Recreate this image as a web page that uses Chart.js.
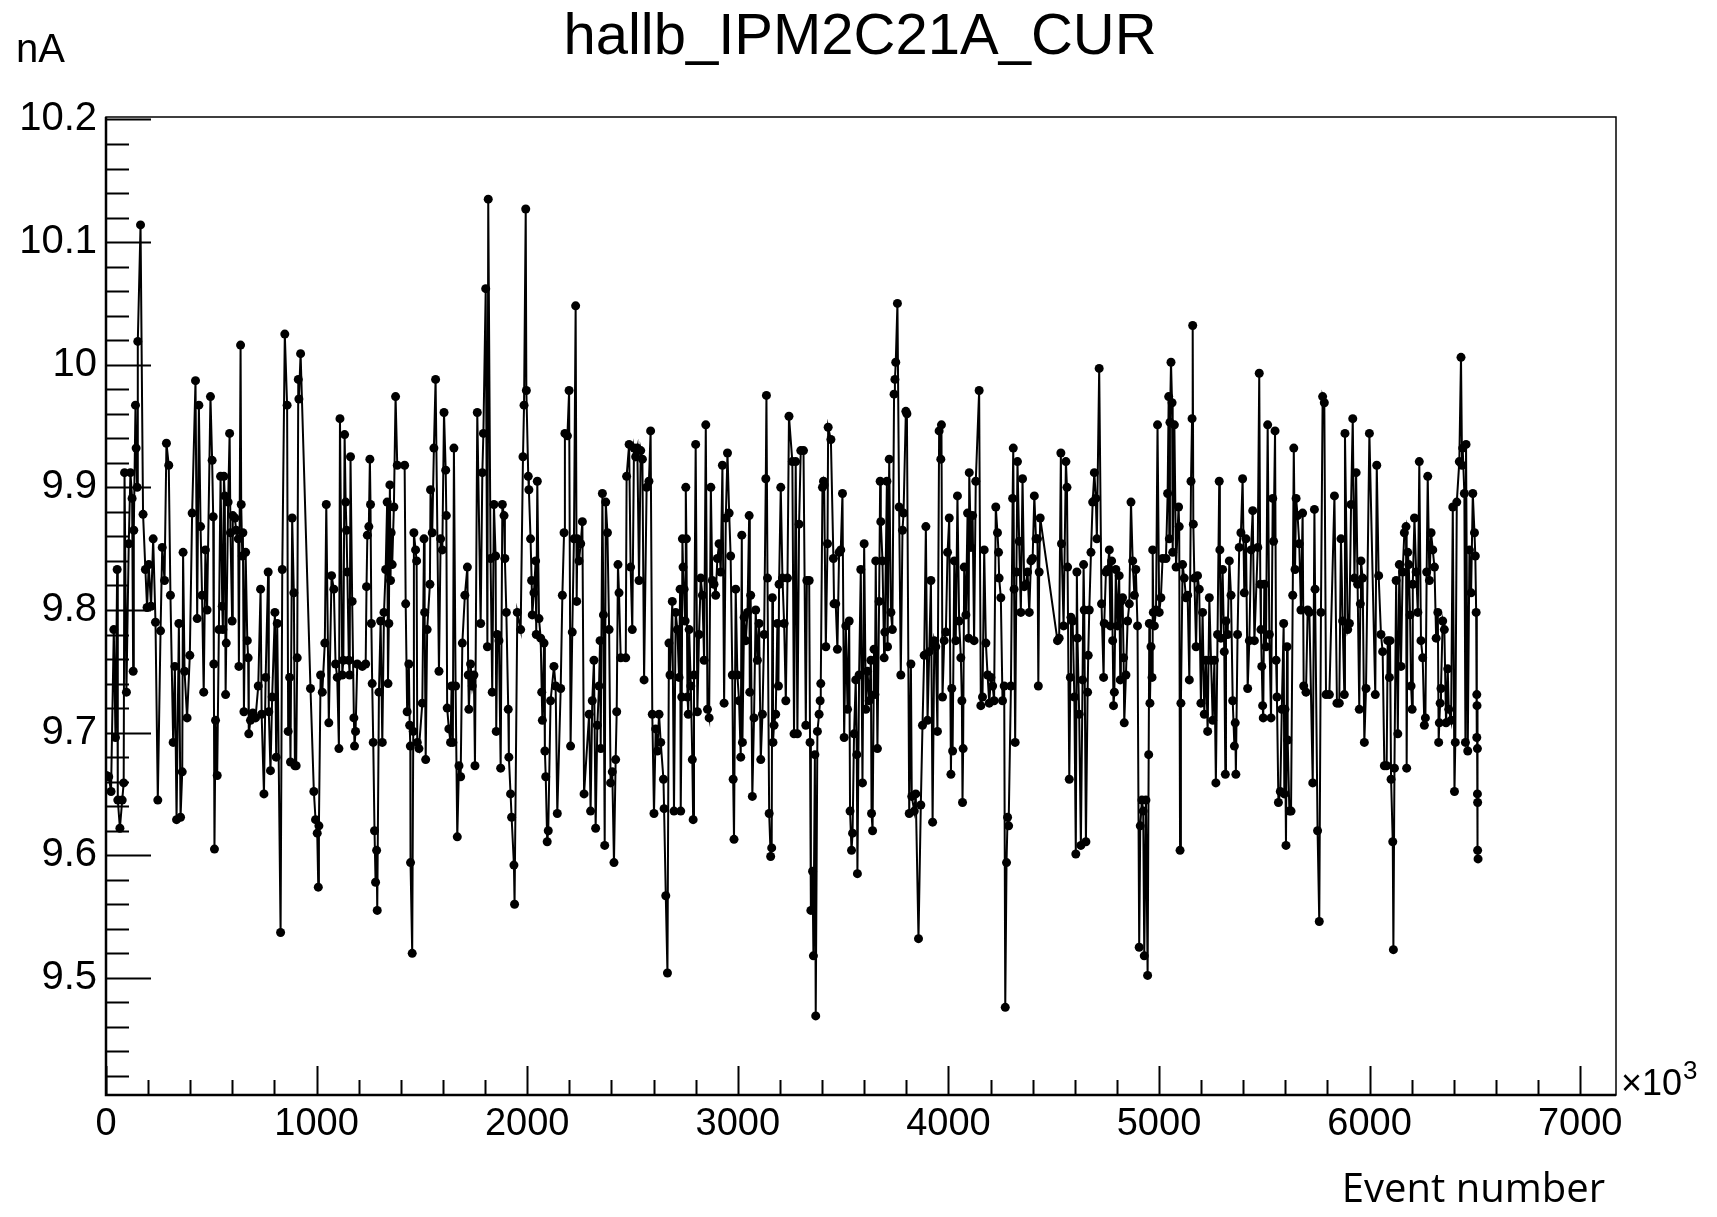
<!DOCTYPE html>
<html>
<head>
<meta charset="utf-8">
<title>hallb_IPM2C21A_CUR</title>
<script src="https://cdn.jsdelivr.net/npm/chart.js@4.4.1/dist/chart.umd.min.js"></script>
<style>
  html, body { margin: 0; padding: 0; background: #fff; }
  #wrap { width: 1717px; height: 1217px; }
</style>
</head>
<body>
<div id="wrap"><canvas id="curChart" width="1717" height="1217"></canvas></div>
<script>
// Chart texts
const chartTitle = "hallb_IPM2C21A_CUR";
const yUnit = "nA";
const xTitle = "Event number";

// Axis ticks
const xTickValues = [0, 1000, 2000, 3000, 4000, 5000, 6000, 7000];
const xTickLabels = ["0", "1000", "2000", "3000", "4000", "5000", "6000", "7000"];
const yTickValues = [9.5, 9.6, 9.7, 9.8, 9.9, 10, 10.1, 10.2];
const yTickLabels = ["9.5", "9.6", "9.7", "9.8", "9.9", "10", "10.1", "10.2"];

// Event number (x10^3)
const eventNumber = [
  2,13,24,37,45,53,56,66,77,84,88,97,108,116,124,129,132,140,143,148,151,164,176,187,195,203,214,224,235,246,259,267,278,287,298,306,319,327,335,346,354,362,366,373,385,398,409,425,433,441,449,456,464,472,480,496,504,509,512,515,520,528,536,544,
  552,555,560,564,568,571,580,587,591,599,602,612,618,628,631,639,642,647,650,655,663,671,675,678,686,697,710,723,734,739,750,758,770,773,781,789,802,808,813,829,837,849,860,865,872,876,884,892,897,903,908,913,916,924,971,987,995,1003,1008,1011,1019,1027,1039,1046,1058,1071,1082,1090,
  1098,1106,1111,1122,1127,1133,1138,1142,1146,1153,1157,1161,1169,1177,1180,1185,1193,1217,1233,1237,1241,1248,1253,1256,1260,1264,1269,1275,1280,1285,1288,1296,1304,1312,1320,1328,1335,1339,1343,1348,1351,1354,1359,1367,1375,1383,1418,1423,1430,1438,1442,1445,1446,1454,1459,1462,1470,1475,1478,1486,1502,1510,1513,1518,1525,1538,1541,1549,1557,1565,1581,1589,1597,1605,1613,1616,1620,1628,1636,
  1641,1647,1652,1660,1668,1676,1684,1692,1704,1716,1720,1723,1731,1739,1747,1752,1763,1779,1787,1792,1803,1811,1815,1826,1834,1842,1850,1853,1858,1866,1874,1882,1890,1894,1901,1910,1913,1921,1926,1937,1940,1953,1969,1980,1985,1993,1996,2005,2008,2016,2021,2024,2032,2040,2043,2048,2056,2064,2069,2072,2080,2084,2088,2095,2100,2111,2127,2135,2143,2159,2167,2175,2179,
  2191,2199,2206,2214,2222,2230,2235,2238,2246,2254,2262,2270,2294,2301,2309,2317,2325,2333,2341,2346,2349,2357,2362,2368,2373,2381,2389,2396,2404,2412,2420,2425,2431,2436,2444,2468,2472,2484,2491,2499,2507,2515,2523,2531,2539,2547,2555,2567,2578,2586,2594,2602,2610,2618,2626,2634,2647,2650,2658,2666,2673,2678,2689,2697,2705,2713,2721,2726,
  2729,2734,2737,2740,2745,2750,2753,2756,2761,2765,2769,2777,2784,2788,2792,2800,2808,2816,2824,2832,2840,2848,2856,2864,2872,2879,2887,2895,2903,2911,2919,2927,2935,2943,2951,2959,2966,2974,2978,2982,2990,2998,3006,3014,3019,3022,3030,3038,3046,3054,3057,3061,3069,3077,3085,3093,3101,3109,3117,3125,3133,3136,3141,3149,3156,3161,3164,3167,3172,3180,3188,3193,3196,3204,3212,3220,3228,3236,3243,3259,3267,
  3275,3283,3291,3299,3312,3323,3328,3339,3343,3347,3355,3359,3366,3370,3378,3386,3391,3394,3402,3407,3410,3418,3426,3429,3442,3454,3457,3465,3473,3481,3489,3497,3505,3513,3521,3529,3533,3540,3545,3552,3560,3565,3568,3576,3584,3592,3600,3608,3616,3624,3632,3635,3640,3647,3651,3655,3663,3671,3676,3679,3687,3695,3698,3708,3711,3719,3727,3734,3742,3746,3750,3758,3766,3774,3782,3787,3798,3803,3814,
  3822,3826,3838,3845,3858,3869,3877,3885,3893,3901,3909,3917,3925,3933,3940,3948,3956,3964,3967,3972,3980,3988,3996,4004,4012,4016,4020,4028,4035,4043,4051,4059,4064,4067,4070,4075,4083,4091,4096,4099,4107,4115,4122,4130,4146,4154,4162,4170,4178,4186,4194,4202,4210,4217,4225,4233,4238,4241,4249,4257,4265,4270,4276,4281,4286,4297,4305,4308,4312,4317,4323,4328,4336,4344,4352,4360,
  4368,4376,4384,4392,4400,4408,4416,4423,4427,4431,4436,4518,4526,4534,4537,4547,4558,4563,4566,4574,4579,4582,4590,4598,4605,4610,4613,4621,4629,4637,4642,4645,4653,4661,4664,4669,4677,4685,4693,4700,4705,4716,4727,4737,4740,4748,4756,4764,4769,4775,4780,4784,4788,4795,4803,4811,4816,4819,4827,4832,4835,4843,4851,4859,4867,4875,4883,4890,4898,4906,4911,
  4919,4925,4930,4938,4946,4951,4954,4957,4962,4967,4970,4973,4978,4986,4993,5001,5009,5017,5033,5041,5046,5049,5052,5057,5062,5065,5073,5081,5093,5096,5100,5104,5112,5120,5128,5136,5144,5152,5157,5160,5163,5168,5176,5183,5191,5199,5207,5215,5223,5231,5239,5247,5255,5263,5270,5278,5286,5289,5294,5302,5310,5315,5318,5326,5334,5342,5350,5358,5362,5365,5373,5381,5389,5397,5405,5413,5421,5429,5437,5445,5453,
  5469,5476,5481,5484,5488,5492,5495,5500,5508,5516,5524,5532,5540,5544,5551,5556,5560,5567,5576,5583,5592,5595,5598,5603,5608,5611,5619,5627,5635,5640,5646,5651,5658,5666,5674,5682,5687,5698,5706,5714,5730,5738,5741,5753,5761,5769,5777,5785,5793,5809,5833,5845,5856,5864,5872,5880,5883,5896,5904,5912,5920,5928,5936,5943,5951,5956,5959,5967,5975,5983,5999,
  6027,6034,6043,6054,6062,6070,6081,6086,6094,6097,6102,6110,6113,6118,6126,6134,6141,6149,6157,6165,6173,6176,6181,6186,6192,6197,6202,6205,6213,6221,6229,6236,6244,6252,6260,6265,6271,6276,6284,6292,6300,6308,6316,6324,6328,6331,6335,6339,6347,6355,6363,6371,6376,6387,6395,6403,6407,6414,6426,6434,6439,6442,6450,6455,6458,6466,6474,6482,6490,6498,6502,6506,6509,6509,6510,6512,6512,6513,6513,6515
];

// Beam current (nA)
const currentNA = [
  9.665,9.664,9.652,9.784,9.696,9.833,9.645,9.622,9.645,9.659,9.912,9.733,9.854,9.912,9.891,9.750,9.865,9.967,9.932,9.900,10.019,10.114,9.878,9.833,9.802,9.837,9.803,9.858,9.790,9.645,9.783,9.851,9.824,9.936,9.918,9.812,9.692,9.754,9.629,9.789,9.631,9.668,9.847,9.750,9.712,9.763,9.879,9.987,9.793,9.967,9.868,9.812,9.733,9.849,9.800,9.974,9.922,9.876,9.756,9.605,9.710,9.665,9.784,9.909,
  9.803,9.784,9.909,9.893,9.731,9.773,9.888,9.944,9.863,9.791,9.877,9.875,9.865,9.858,9.754,10.016,9.886,9.844,9.863,9.717,9.847,9.775,9.761,9.699,9.710,9.716,9.712,9.738,9.817,9.715,9.650,9.745,9.831,9.717,9.669,9.729,9.798,9.680,9.789,9.537,9.833,10.025,9.967,9.701,9.745,9.676,9.875,9.814,9.673,9.673,9.761,9.988,9.972,10.009,9.736,9.652,9.629,9.618,9.574,9.624,9.747,9.733,9.773,9.886,9.708,9.828,9.817,9.756,
  9.745,9.687,9.956,9.747,9.759,9.943,9.888,9.865,9.831,9.759,9.747,9.925,9.807,9.712,9.689,9.701,9.756,9.754,9.756,9.819,9.861,9.868,9.923,9.886,9.789,9.740,9.692,9.620,9.578,9.604,9.555,9.733,9.791,9.692,9.798,9.833,9.888,9.740,9.789,9.902,9.824,9.863,9.837,9.884,9.974,9.918,9.918,9.805,9.717,9.756,9.706,9.689,9.594,9.520,9.701,9.863,9.849,9.840,9.692,9.687,9.724,9.858,9.798,9.678,9.784,9.821,9.898,9.863,9.932,9.988,9.750,9.858,9.849,9.961,9.914,9.877,9.720,9.703,9.692,
  9.738,9.692,9.932,9.738,9.615,9.673,9.664,9.773,9.812,9.835,9.747,9.719,9.756,9.738,9.747,9.673,9.961,9.789,9.912,9.944,10.062,9.770,10.135,9.842,9.733,9.886,9.844,9.701,9.780,9.775,9.671,9.886,9.877,9.842,9.798,9.719,9.680,9.650,9.631,9.592,9.560,9.798,9.784,9.925,9.967,10.127,9.979,9.909,9.898,9.858,9.824,9.796,9.814,9.840,9.780,9.905,9.793,9.777,9.733,9.710,9.773,9.685,9.664,9.611,9.620,9.726,9.754,9.738,9.634,9.736,9.812,9.863,9.944,
  9.942,9.979,9.689,9.782,9.858,10.048,9.807,9.858,9.840,9.854,9.872,9.650,9.715,9.636,9.726,9.759,9.622,9.706,9.738,9.775,9.687,9.895,9.796,9.608,9.888,9.863,9.784,9.659,9.668,9.594,9.678,9.717,9.837,9.814,9.761,9.761,9.909,9.935,9.835,9.784,9.932,9.925,9.932,9.824,9.930,9.923,9.743,9.900,9.905,9.946,9.715,9.634,9.703,9.685,9.715,9.692,9.662,9.638,9.567,9.504,9.773,9.747,9.807,9.636,9.798,9.784,9.745,9.817,
  9.636,9.729,9.858,9.835,9.817,9.791,9.900,9.858,9.729,9.715,9.784,9.738,9.678,9.629,9.747,9.935,9.717,9.780,9.826,9.812,9.759,9.951,9.719,9.712,9.900,9.824,9.821,9.812,9.842,9.854,9.831,9.918,9.724,9.875,9.928,9.879,9.844,9.747,9.662,9.613,9.817,9.747,9.726,9.680,9.861,9.692,9.794,9.775,9.798,9.877,9.733,9.812,9.648,9.712,9.800,9.759,9.789,9.678,9.715,9.780,9.907,9.975,9.826,9.634,9.599,9.606,9.810,9.692,9.706,9.715,9.789,9.738,9.821,9.900,9.826,9.789,9.726,9.826,9.958,9.921,9.699,
  9.921,9.699,9.870,9.930,9.930,9.706,9.824,9.824,9.692,9.555,9.587,9.518,9.682,9.469,9.701,9.715,9.726,9.740,9.900,9.905,9.902,9.770,9.854,9.949,9.939,9.842,9.805,9.805,9.768,9.847,9.849,9.895,9.696,9.787,9.719,9.791,9.636,9.604,9.618,9.699,9.743,9.682,9.585,9.747,9.833,9.659,9.854,9.719,9.750,9.726,9.759,9.634,9.620,9.768,9.731,9.840,9.687,9.807,9.905,9.872,9.840,9.761,9.782,9.905,9.770,9.923,9.798,9.784,9.976,9.988,10.002,10.050,9.884,9.747,9.865,9.879,9.962,9.960,9.634,
  9.756,9.648,9.636,9.650,9.532,9.641,9.706,9.763,9.868,9.710,9.766,9.824,9.627,9.775,9.770,9.701,9.946,9.923,9.951,9.729,9.775,9.782,9.847,9.875,9.666,9.736,9.685,9.840,9.775,9.893,9.791,9.761,9.726,9.643,9.687,9.835,9.796,9.879,9.777,9.912,9.851,9.877,9.775,9.905,9.979,9.722,9.729,9.849,9.773,9.747,9.724,9.745,9.738,9.726,9.884,9.863,9.847,9.826,9.810,9.726,9.738,9.476,9.594,9.631,9.624,9.738,9.891,9.932,9.817,9.692,9.831,9.921,9.856,9.798,9.907,9.819,
  9.821,9.831,9.798,9.840,9.842,9.893,9.858,9.858,9.738,9.831,9.875,9.775,9.777,9.928,9.854,9.787,9.921,9.900,9.835,9.662,9.745,9.794,9.791,9.729,9.601,9.831,9.777,9.715,9.608,9.743,9.837,9.800,9.611,9.733,9.763,9.800,9.847,9.888,9.912,9.891,9.858,9.997,9.805,9.745,9.789,9.831,9.833,9.849,9.787,9.840,9.775,9.722,9.733,9.833,9.787,9.828,9.743,9.807,9.810,9.761,9.708,9.747,9.791,9.805,9.888,9.840,9.812,9.833,9.787,9.525,9.624,
  9.645,9.636,9.518,9.645,9.502,9.682,9.789,9.724,9.770,9.745,9.849,9.798,9.787,9.800,9.951,9.798,9.810,9.842,9.842,9.895,9.974,9.858,9.953,10.002,9.969,9.847,9.951,9.835,9.884,9.868,9.604,9.724,9.837,9.826,9.810,9.812,9.743,9.905,9.956,10.032,9.870,9.826,9.770,9.828,9.817,9.724,9.798,9.715,9.759,9.701,9.810,9.759,9.710,9.759,9.659,9.780,9.905,9.849,9.777,9.833,9.766,9.666,9.791,9.780,9.840,9.812,9.726,9.689,9.708,9.666,9.780,9.851,9.863,9.907,9.814,9.858,9.736,9.775,9.849,9.881,9.775,
  9.851,9.993,9.821,9.784,9.754,9.722,9.712,9.821,9.770,9.951,9.780,9.712,9.891,9.856,9.946,9.759,9.729,9.643,9.652,9.719,9.789,9.650,9.719,9.608,9.770,9.694,9.636,9.636,9.812,9.932,9.833,9.891,9.877,9.854,9.800,9.879,9.738,9.733,9.800,9.798,9.659,9.882,9.817,9.620,9.546,9.798,9.974,9.969,9.731,9.731,9.893,9.724,9.724,9.858,9.791,9.731,9.944,9.784,9.789,9.886,9.956,9.826,9.912,9.821,9.719,9.805,9.840,9.826,9.692,9.736,9.944,
  9.731,9.918,9.828,9.780,9.766,9.673,9.673,9.775,9.745,9.775,9.662,9.611,9.523,9.671,9.824,9.699,9.837,9.754,9.831,9.863,9.868,9.671,9.847,9.837,9.796,9.738,9.719,9.821,9.875,9.831,9.798,9.921,9.775,9.761,9.706,9.712,9.831,9.909,9.824,9.863,9.849,9.835,9.777,9.798,9.692,9.708,9.724,9.736,9.791,9.784,9.708,9.752,9.719,9.710,9.884,9.652,9.692,9.888,9.921,10.006,9.918,9.932,9.895,9.692,9.935,9.685,9.849,9.814,9.895,9.863,9.844,9.798,9.731,9.696,9.722,9.687,9.650,9.643,9.604,9.597
];

if (eventNumber.length !== currentNA.length) {
  throw new Error("length mismatch " + eventNumber.length + " vs " + currentNA.length);
}

document.addEventListener("DOMContentLoaded", () => {
  const ctx = document.getElementById("curChart").getContext("2d");
  const points = eventNumber.map((x, i) => ({ x: x, y: currentNA[i] }));

  // ROOT style frame, inside ticks and extra texts
  const rootStyle = {
    id: "rootStyle",
    beforeDatasetsDraw(chart) {
      const c = chart.ctx;
      const a = chart.chartArea;
      const xs = chart.scales.x;
      const ys = chart.scales.y;
      c.save();
      c.strokeStyle = "#000";
      // frame
      c.lineWidth = 1.5;
      c.strokeRect(a.left, a.top, a.right - a.left, a.bottom - a.top);
      // axis lines
      c.lineWidth = 2.5;
      c.beginPath();
      c.moveTo(a.left, a.top);
      c.lineTo(a.left, a.bottom);
      c.lineTo(a.right, a.bottom);
      c.stroke();
      // y ticks: major 0.1, minor 0.02
      c.lineWidth = 2;
      c.beginPath();
      for (let k = 470; k <= 510; k++) {
        const v = k / 50;
        if (v < ys.min || v > ys.max) continue;
        const py = Math.round(ys.getPixelForValue(v)) + 0.5;
        const len = k % 5 === 0 ? 45 : 23;
        c.moveTo(a.left, py);
        c.lineTo(a.left + len, py);
      }
      // x ticks: major 1000, minor 200
      for (let k = 0; k <= 36; k++) {
        const v = k * 200;
        if (v < xs.min || v > xs.max) continue;
        const px = Math.round(xs.getPixelForValue(v)) + 0.5;
        const len = k % 5 === 0 ? 29 : 15;
        c.moveTo(px, a.bottom);
        c.lineTo(px, a.bottom - len);
      }
      c.stroke();
      c.restore();
    },
    afterDraw(chart) {
      const c = chart.ctx;
      c.save();
      c.fillStyle = "#000";
      c.textBaseline = "alphabetic";
      // title
      c.font = '58px "Liberation Sans", Arial, sans-serif';
      c.textAlign = "center";
      c.fillText(chartTitle, 860, 54);
      // unit
      c.font = '40px "Liberation Sans", Arial, sans-serif';
      c.textAlign = "left";
      c.fillText(yUnit, 16, 62);
      // x10^3
      c.font = '36px "Liberation Sans", Arial, sans-serif';
      c.fillText("\u00d710", 1621, 1095);
      const w = c.measureText("\u00d710").width;
      c.font = '26px "Liberation Sans", Arial, sans-serif';
      c.fillText("3", 1621 + w + 1, 1079);
      // x title
      c.font = '40px "Open Sans", sans-serif';
      c.textAlign = "right";
      c.fillText(xTitle, 1605, 1202);
      c.restore();
    }
  };

  new Chart(ctx, {
    type: "scatter",
    data: {
      datasets: [
        {
          label: chartTitle,
          data: points,
          showLine: true,
          borderColor: "#000",
          backgroundColor: "#000",
          borderWidth: 2,
          pointRadius: 4.5,
          pointHoverRadius: 4.5,
          pointBorderWidth: 0,
          tension: 0,
        },
      ],
    },
    options: {
      responsive: false,
      devicePixelRatio: 1,
      animation: false,
      events: [],
      layout: { padding: { left: 0, right: 101, top: 117, bottom: 0 } },
      plugins: {
        legend: { display: false },
        title: { display: false },
        tooltip: { enabled: false },
      },
      scales: {
        x: {
          type: "linear",
          min: 0,
          max: 7170,
          grid: { display: false, drawTicks: false },
          border: { display: false },
          afterBuildTicks: (s) => {
            s.ticks = xTickValues.map((v) => ({ value: v }));
          },
          afterFit: (s) => {
            s.height = 122;
          },
          ticks: {
            color: "#000",
            font: { family: '"Liberation Sans", Arial, sans-serif', size: 38 },
            padding: 7,
            maxRotation: 0,
            autoSkip: false,
            callback: (v, i) => xTickLabels[i],
          },
        },
        y: {
          type: "linear",
          min: 9.4045,
          max: 10.202,
          grid: { display: false, drawTicks: false },
          border: { display: false },
          afterBuildTicks: (s) => {
            s.ticks = yTickValues.map((v) => ({ value: v }));
          },
          afterFit: (s) => {
            s.width = 106;
          },
          ticks: {
            color: "#000",
            font: { family: '"Liberation Sans", Arial, sans-serif', size: 40 },
            padding: 9,
            autoSkip: false,
            callback: (v, i) => yTickLabels[i],
          },
        },
      },
    },
    plugins: [rootStyle],
  });
});
</script>
</body>
</html>
